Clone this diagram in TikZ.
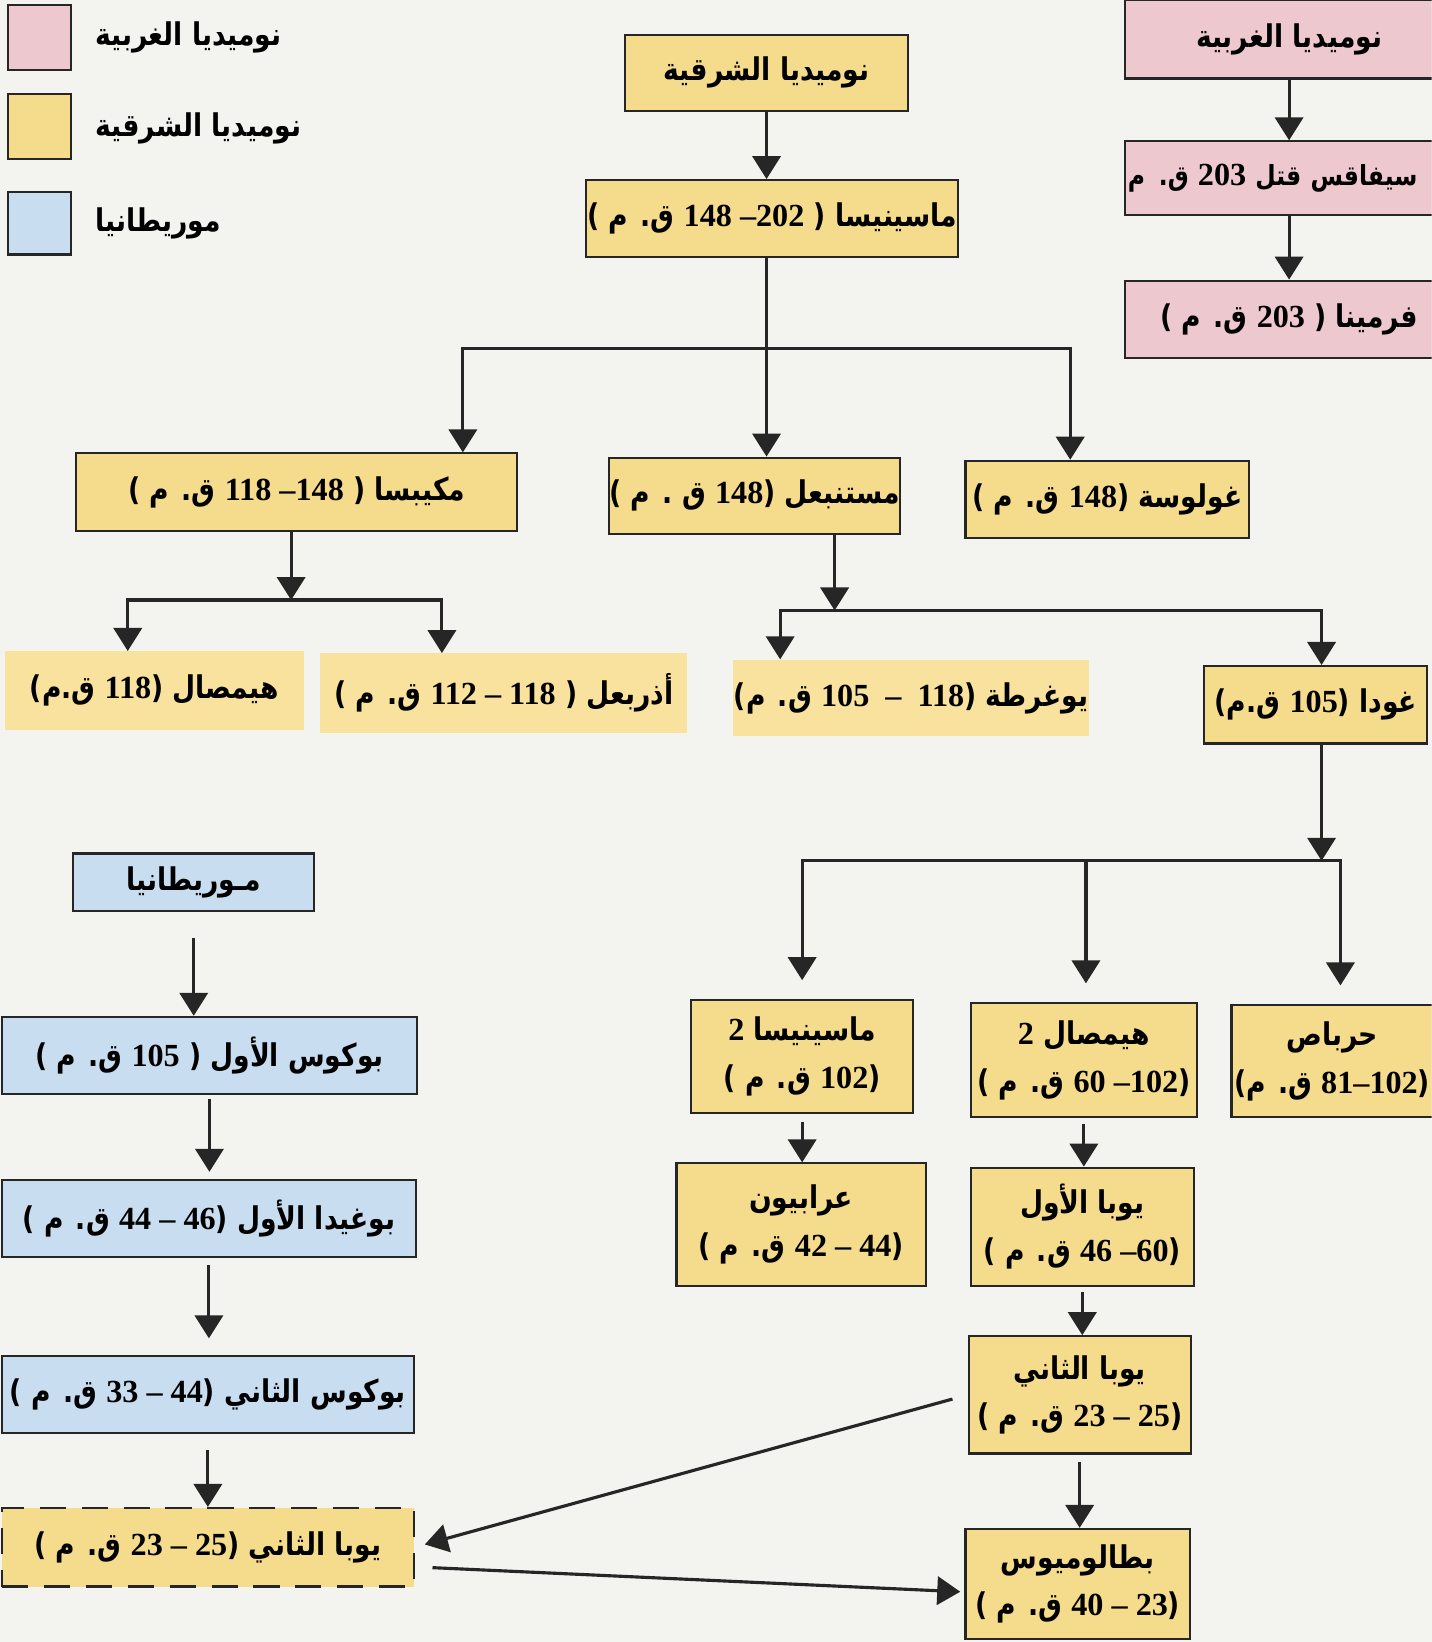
\documentclass[tikz,border=0pt]{standalone}
\usepackage{fontspec}
\usetikzlibrary{arrows.meta}
\newfontfamily\arabicfont[Script=Arabic,FakeStretch=0.85]{DejaVu Sans}
\newfontfamily\numfont{Liberation Serif}
\TeXXeTstate=1
\definecolor{eastcol}{RGB}{245,219,140}
\definecolor{eastpale}{RGB}{248,226,158}
\definecolor{westcol}{RGB}{237,200,206}
\definecolor{maurcol}{RGB}{200,221,240}
\definecolor{paper}{RGB}{243,243,239}
\newcommand\arsize{\fontsize{17}{26}\selectfont}
\newcommand\ar[1]{{\arabicfont\bfseries\beginR #1\endR}}
\newcommand\nm[1]{\beginL{\numfont\bfseries\fontsize{17.5}{26}\selectfont #1}\endL{}}

\begin{document}
\begin{tikzpicture}[x=0.2mm,y=-0.2mm,font=\arsize,
  box/.style={draw=black!85,line width=0.4mm,inner sep=0pt,align=center},
  wh/.style 2 args={minimum width=#1*0.2mm,minimum height=#2*0.2mm},
  eastbox/.style={box,fill=eastcol},
  eastflat/.style={inner sep=0pt,align=center,fill=eastpale},
  westbox/.style={box,fill=westcol},
  maurbox/.style={box,fill=maurcol},
  arr/.style={line width=0.6mm,draw=black!85,-{Triangle[width=5.4mm,length=4.4mm]}}]
\fill[paper] (0,0) rectangle (1367,1568);
\useasboundingbox (0,0) rectangle (1367,1568);
\clip (0,0) rectangle (1367,1568);
% legend
\node[westbox,wh={60}{62}] (keyW) at (38,36) {};\node[anchor=west] (keyWtxt) at (85,36) {\ar{نوميديا الغربية}};
\node[eastbox,wh={60}{62}] (keyE) at (38,121) {};\node[anchor=west] (keyEtxt) at (85,123) {\ar{نوميديا الشرقية}};
\node[maurbox,wh={60}{60}] (keyM) at (38,213) {};\node[anchor=west] (keyMtxt) at (85,213) {\ar{موريطانيا}};
% eastern Numidia
\node[eastbox,wh={270}{73}] (east) at (732,69.5) {\ar{نوميديا الشرقية}};
\node[eastbox,wh={355}{73}] (masin) at (737.5,208.5) {\ar{ماسينيسا ( \nm{148 –202} ق. م )}};
\node[eastbox,wh={421}{74}] (micip) at (283.5,470) {\ar{مكيبسا ( \nm{118 –148} ق. م )}};
\node[eastbox,wh={269}{73}] (mastan) at (720.5,473.5) {\ar{مستنبعل (\nm{148} ق . م )}};
\node[eastbox,wh={271}{74}] (gulus) at (1057.5,477) {\ar{غولوسة (\nm{148} ق. م )}};
\node[eastflat,wh={285}{75}] (hiemA) at (147.5,659.5) {\ar{هيمصال (\nm{118} ق.م)}};
\node[eastflat,wh={350}{76}] (adher) at (481,662) {\ar{أذربعل ( \nm{112 – 118} ق. م )}};
\node[eastflat,wh={340}{73}] (jugur) at (870,666.5) {\ar{يوغرطة (\nm{105 \ – \ 118} ق. م)}};
\node[eastbox,wh={213}{74}] (gauda) at (1256.5,673) {\ar{غودا (\nm{105} ق.م)}};
\node[eastbox,wh={212}{108}] (masinB) at (766,1009) {\ar{ماسينيسا \nm{2}}\\\ar{(\nm{102} ق. م )}};
\node[eastbox,wh={216}{109}] (hiemB) at (1035,1012.5) {\ar{هيمصال \nm{2}}\\\ar{(\nm{60 –102} ق. م )}};
\node[eastbox,wh={192}{107}] (hiarb) at (1272,1013.5) {\ar{حرباص}\\\ar{(\nm{81–102} ق. م)}};
\node[eastbox,wh={238}{117}] (arabi) at (765,1169.5) {\ar{عرابيون}\\\ar{(\nm{42 – 44} ق. م )}};
\node[eastbox,wh={213}{113}] (jubaA) at (1033.5,1171.5) {\ar{يوبا الأول}\\\ar{(\nm{46 –60} ق. م )}};
\node[eastbox,wh={212}{112}] (jubaB) at (1031,1332) {\ar{يوبا الثاني}\\\ar{(\nm{23 – 25} ق. م )}};
\node[eastbox,wh={214}{105}] (ptole) at (1029,1512.5) {\ar{بطالوميوس}\\\ar{(\nm{40 – 23} ق. م )}};
% Mauretania
\node[maurbox,wh={230}{55}] (maur) at (185,842.5) {\ar{مـوريطانيا}};
\node[maurbox,wh={396}{74}] (boccA) at (200,1008) {\ar{بوكوس الأول ( \nm{105} ق. م )}};
\node[maurbox,wh={395}{73}] (bogud) at (199.5,1163.5) {\ar{بوغيدا الأول (\nm{44 – 46} ق. م )}};
\node[maurbox,wh={393}{73}] (boccB) at (198.5,1331.5) {\ar{بوكوس الثاني (\nm{33 – 44} ق. م )}};
\node[eastbox,dash pattern=on 5mm off 3mm,wh={393}{75}] (jubaL) at (198.5,1477.5) {\ar{يوبا الثاني (\nm{23 – 25} ق. م )}};
% western Numidia
\node[westbox,wh={314}{75}] (west) at (1231,37.5) {\ar{نوميديا الغربية}};
\node[westbox,wh={314}{70},text width=308*0.2mm,align=left,font=\fontsize{15}{26}\selectfont] (syph) at (1231,170) {\ar{سيفاقس قتل \nm{203} ق. م}};
\node[westbox,wh={314}{74}] (vermi) at (1231,305) {\ar{فرمينا ( \nm{203} ق. م )}};
\draw[arr] (west) -- (syph);\draw[arr] (syph) -- (vermi);
% forks
\coordinate (fork1) at (732,333);\coordinate (fork1L) at (442,333);\coordinate (fork1R) at (1022,333);
\coordinate (fork2) at (278,573);\coordinate (fork2L) at (122,573);\coordinate (fork2R) at (422,573);
\coordinate (fork3) at (797,583);\coordinate (fork3L) at (745,583);\coordinate (fork3R) at (1262,583);
\coordinate (fork4) at (1262,822);\coordinate (fork4L) at (766,822);\coordinate (fork4M) at (1037,822);\coordinate (fork4R) at (1280,822);
\draw[arr] (east.south) -- (east.south |- masin.north);
\draw[arr] (masin.south -| fork1) -- (fork1 |- mastan.north);
\draw[arr] (fork1) -| (fork1L |- micip.north);\draw[arr] (fork1) -| (fork1R |- gulus.north);
\draw[arr] (micip.south -| fork2) -- (fork2);
\draw[arr] (fork2) -| (fork2L |- hiemA.north);\draw[arr] (fork2) -| (fork2R |- adher.north);
\draw[arr] (mastan.south -| fork3) -- (fork3);
\draw[arr] (fork3) -| (fork3L |- jugur.north);\draw[arr] (fork3) -| (fork3R |- gauda.north);
\draw[arr] (gauda.south -| fork4) -- (fork4);
\draw[arr,shorten >=3.6mm] (fork4) -| (fork4L |- masinB.north);
\draw[arr,shorten >=3.6mm] (fork4) -| (fork4R |- hiarb.north);
\draw[arr,shorten >=3.6mm] (fork4M) -- (fork4M |- hiemB.north);
\draw[arr,shorten <=1.4mm] (masinB.south) -- (masinB.south |- arabi.north);
\draw[arr,shorten <=1mm] (hiemB.south) -- (hiemB.south |- jubaA.north);
\draw[arr,shorten <=1mm] (jubaA.south) -- (jubaA.south |- jubaB.north);
\draw[arr,shorten <=1.4mm] (jubaB.south) -- (jubaB.south |- ptole.north);
\draw[arr,shorten <=5mm] (maur.south) -- (maur.south |- boccA.north);
\draw[arr,shorten <=0.6mm,shorten >=1.4mm] (boccA.south) -- (boccA.south |- bogud.north);
\draw[arr,shorten <=1.4mm,shorten >=3.2mm] (bogud.south) -- (bogud.south |- boccB.north);
\draw[arr,shorten <=3.2mm] (boccB.south) -- (boccB.south |- jubaL.north);
\draw[arr,shorten <=3mm,shorten >=2mm] (jubaB.west) -- (jubaL.east);
\draw[arr] ([xshift=3.4mm,yshift=-3.9mm]jubaL.east) -- ([xshift=-0.8mm,yshift=-1.5mm]ptole.west);
\end{tikzpicture}
\end{document}
